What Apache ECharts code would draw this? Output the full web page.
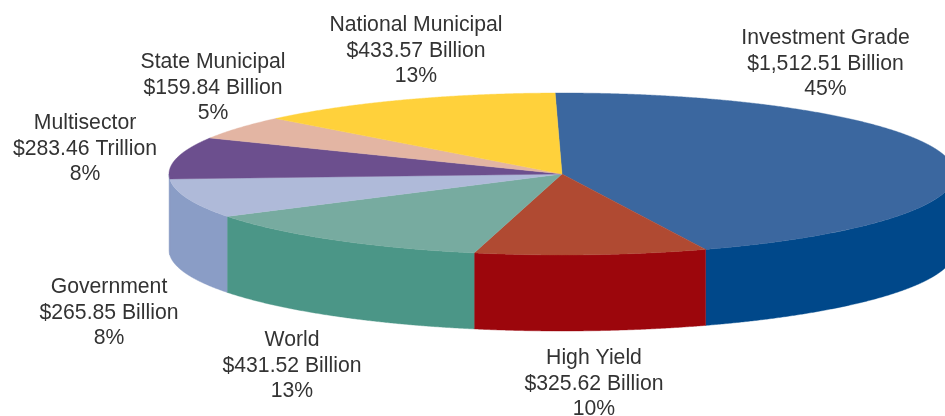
<!DOCTYPE html>
<html>
<head>
<meta charset="utf-8">
<style>html,body{margin:0;padding:0;background:#fff}#chart{width:945px;height:416px}</style>
<script src="https://cdn.jsdelivr.net/npm/echarts@6/dist/echarts.min.js"></script>
</head>
<body>
<div id="chart"></div>
<script>
const categories = ['Investment Grade','High Yield','World','Government','Multisector','State Municipal','National Municipal'];
const amounts = [1512.51,325.62,431.52,265.85,283.46,159.84,433.57];
const amountLabels = ['$1,512.51 Billion','$325.62 Billion','$431.52 Billion','$265.85 Billion','$283.46 Trillion','$159.84 Billion','$433.57 Billion'];
const shares = ['45%','10%','13%','8%','8%','5%','13%'];

const topColors = ['#3B679F','#B04A32','#77ABA0','#AFBAD9','#6C4F8E','#E3B5A3','#FFD13B'];
const sideColors = ['#00488A','#9C060C','#4B9687','#8A9DC6','#8A9DC6','#C99A88','#D9AE20'];
const labelCenters = [[825.5,64],[594,384],[292,366],[109,313],[85,149],[213,88],[416,51]];
const PIE = {cx:562, cy:174, rx:393, ry:81, depth:76, startDeg:-1};

const total = amounts.reduce((a,b)=>a+b,0);
const rimPoint = (deg, drop) => {
  const t = deg*Math.PI/180;
  return [PIE.cx + PIE.rx*Math.sin(t), PIE.cy - PIE.ry*Math.cos(t) + drop];
};
const arc = (from, to, drop) => {
  const n = Math.max(2, Math.ceil(Math.abs(to-from)*4));
  const pts = [];
  for (let i=0;i<=n;i++) pts.push(rimPoint(from+(to-from)*i/n, drop));
  return pts;
};
function renderItem(params, api){
  const i = params.dataIndex;
  let before = 0;
  for (let k=0;k<i;k++) before += amounts[k];
  const a0 = PIE.startDeg + before/total*360;
  const a1 = a0 + api.value(0)/total*360;
  const children = [];
  const s0 = Math.max(a0,90), s1 = Math.min(a1,270);
  if (s1 > s0) {
    children.push({type:'polygon',
      shape:{points: arc(s0,s1,0).concat(arc(s1,s0,PIE.depth))},
      style:{fill:sideColors[i], stroke:sideColors[i], lineWidth:0.4}});
  }
  children.push({type:'polygon',
    shape:{points: [[PIE.cx,PIE.cy]].concat(arc(a0,a1,0))},
    style:{fill:topColors[i], stroke:topColors[i], lineWidth:0.4}});
  children.push({type:'text',
    style:{x:labelCenters[i][0], y:labelCenters[i][1],
      text: categories[i]+'\n'+amountLabels[i]+'\n'+shares[i],
      align:'center', verticalAlign:'middle',
      fontFamily:'"Liberation Sans", Arial, sans-serif', fontSize:21.2, lineHeight:25.5,
      fill:'#333333'}});
  return {type:'group', children};
}
const chart = echarts.init(document.getElementById('chart'), null, {renderer:'canvas'});
chart.setOption({
  animation:false,
  backgroundColor:'#ffffff',
  series:[{type:'custom', coordinateSystem:'none', renderItem,
    clip:false, silent:true,
    data: amounts.map((v,i)=>({name:categories[i], value:[v]}))}]
});
</script>
</body>
</html>
